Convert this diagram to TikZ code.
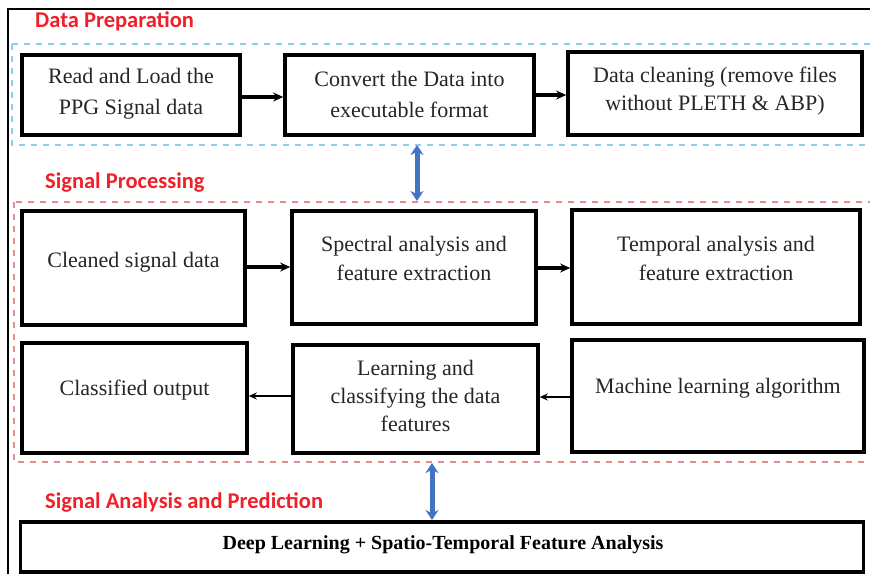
\documentclass[tikz,border=0pt]{standalone}
\usepackage{fontspec}
\setmainfont{Liberation Serif}
\newfontfamily\labfont{Carlito}
\usetikzlibrary{arrows.meta}
\definecolor{labred}{HTML}{F0202A}
\definecolor{dashblue}{HTML}{8CCFE6}
\definecolor{dashred}{HTML}{E88A8A}
\definecolor{arrblue}{HTML}{4472C4}
\begin{document}
\begin{tikzpicture}[x=1pt,y=-1pt,
  box/.style={draw, line width=3.6pt, inner sep=0pt},
  txt/.style={font=\fontsize{22}{29}\selectfont, align=center, inner sep=0pt, text=black!85},
  lab/.style={font=\labfont\bfseries\fontsize{22.5}{26}\selectfont, text=labred, anchor=west, inner sep=0pt},
  flow/.style={line width=3.2pt, -{Stealth[length=10pt,width=9pt]}},
  flowthin/.style={line width=2.2pt, -{Stealth[length=8pt,width=7pt]}},
  dbl/.style={line width=5pt, draw=arrblue, {Stealth[length=10pt,width=13pt]}-{Stealth[length=10pt,width=13pt]}}]
\useasboundingbox (0,0) rectangle (870,574);
\fill[white] (0,0) rectangle (870,574);
% outer frame (cut at right and bottom)
\draw[line width=1.8pt] (8,574) -- (8,9) -- (870,9);
% group frames
\draw[dashblue, line width=2pt, dash pattern=on 6pt off 6pt] (12,44) rectangle (874,145);
\draw[dashred, line width=2pt, dash pattern=on 6pt off 6pt] (14,202) rectangle (874,462);
% labels
\node[lab] (lDP) at (35,21) {Data Preparation};
\node[lab] (lSP) at (45,183) {Signal Processing};
\node[lab] (lSA) at (45,502) {Signal Analysis and Prediction};
% row 1
\node[box, minimum width=218pt, minimum height=80pt] (b1) at (131,95) {};
\node[box, minimum width=249pt, minimum height=80pt] (b2) at (409.5,95) {};
\node[box, minimum width=294pt, minimum height=83pt] (b3) at (715,93.5) {};
\node[txt, font=\fontsize{22}{31}\selectfont] (t1) at (131,94) {Read and Load the\\PPG Signal data};
\node[txt, font=\fontsize{22}{31}\selectfont] (t2) at (409.5,94) {Convert the Data into\\executable format};
\node[txt, font=\fontsize{22}{28}\selectfont] (t3) at (715,91) {Data cleaning (remove files\\without PLETH \& ABP)};
% row 2
\node[box, minimum width=223pt, minimum height=114pt] (b4) at (133.5,268) {};
\node[box, minimum width=244pt, minimum height=113pt] (b5) at (414,267.5) {};
\node[box, minimum width=288pt, minimum height=114pt] (b6) at (716,267) {};
\node[txt] (t4) at (133.5,262) {Cleaned signal data};
\node[txt] (t5) at (414,258) {Spectral analysis and\\feature extraction};
\node[txt] (t6) at (716,258) {Temporal analysis and\\feature extraction};
% row 3
\node[box, minimum width=225pt, minimum height=110pt] (b7) at (134.5,398) {};
\node[box, minimum width=245pt, minimum height=108pt] (b8) at (415.5,399) {};
\node[box, minimum width=292pt, minimum height=112pt] (b9) at (718,396) {};
\node[txt] (t7) at (134.5,390) {Classified output};
\node[txt, font=\fontsize{22}{28}\selectfont] (t8) at (415.5,396) {Learning and\\classifying the data\\features};
\node[txt] (t9) at (718,388) {Machine learning algorithm};
% bottom box
\node[box, minimum width=843pt, minimum height=50pt] (b10) at (442,547) {};
\node[txt, font=\bfseries\fontsize{20}{22}\selectfont, text=black] (t10) at (443,545) {Deep Learning + Spatio-Temporal Feature Analysis};
% flow arrows
\draw[flow] (b1.east |- 0,97) -- (b2.west |- 0,97);
\draw[flow] (b2.east |- 0,95) -- (b3.west |- 0,95);
\draw[flow] (b4.east |- 0,267) -- (b5.west |- 0,267);
\draw[flow] (b5.east |- 0,268) -- (b6.west |- 0,268);
\draw[flowthin] (b9.west |- 0,397) -- (b8.east |- 0,397);
\draw[flowthin] (b8.west |- 0,396) -- (b7.east |- 0,396);
% double arrows between groups
\coordinate (d1a) at (417,145);
\coordinate (d1b) at (417,201);
\coordinate (d2a) at (432,463);
\coordinate (d2b) at (432,520);
\draw[dbl] (d1a) -- (d1b);
\draw[dbl] (d2a) -- (d2b);
\end{tikzpicture}
\end{document}
